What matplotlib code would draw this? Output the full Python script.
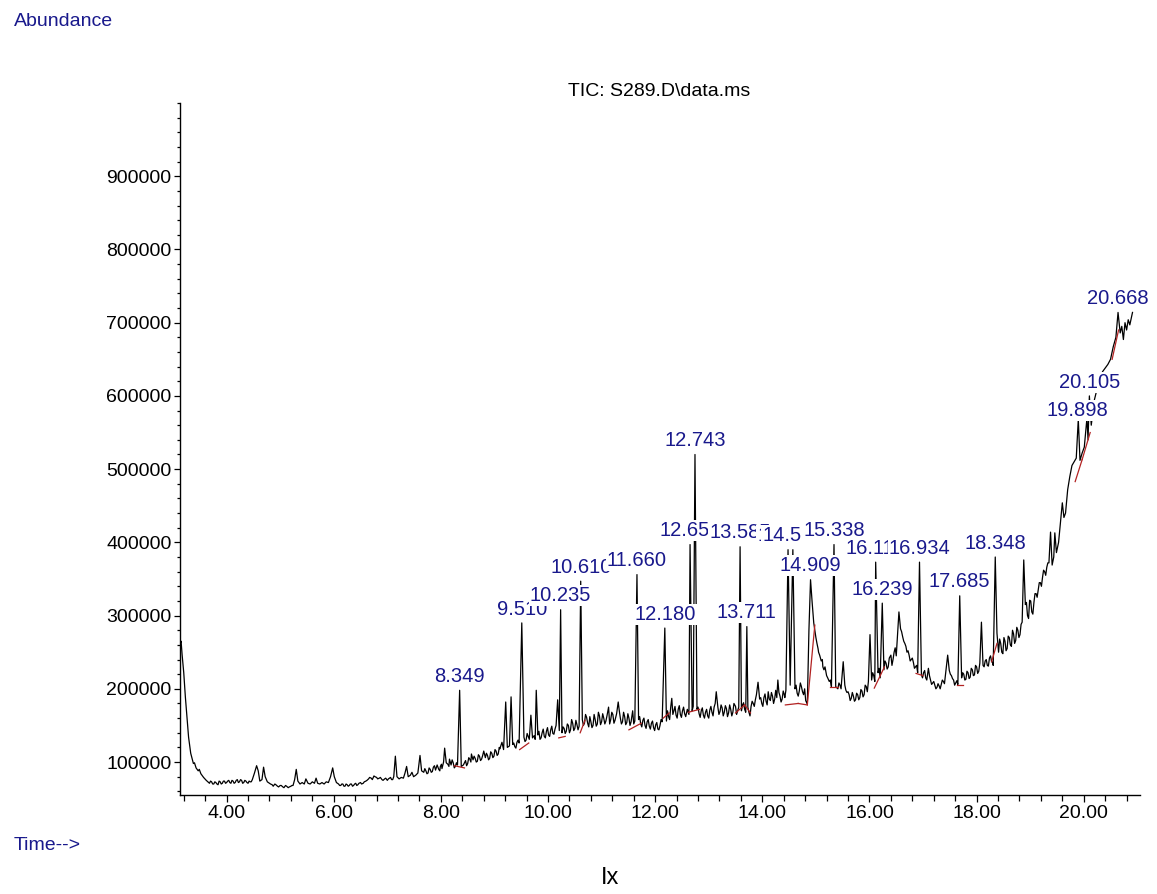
import matplotlib
matplotlib.use("Agg")
import matplotlib.pyplot as plt
from matplotlib.ticker import MultipleLocator, FixedLocator

plt.rcParams['font.family'] = ['Liberation Sans', 'DejaVu Sans']

# ---------------- data (time in min, abundance in thousands) ----------------
trace_time = [
    3.14, 3.15, 3.17, 3.20, 3.23, 3.26, 3.29, 3.33, 3.38, 3.40, 3.43, 3.47, 3.49, 3.52, 3.57, 3.62,
    3.68, 3.72, 3.76, 3.80, 3.84, 3.88, 3.92, 3.96, 4.00, 4.04, 4.08, 4.12, 4.16, 4.20, 4.24, 4.28,
    4.32, 4.36, 4.40, 4.44, 4.48, 4.52, 4.56, 4.59, 4.62, 4.66, 4.69, 4.72, 4.76, 4.80, 4.85, 4.90,
    4.95, 5.00, 5.05, 5.10, 5.15, 5.20, 5.24, 5.27, 5.30, 5.33, 5.37, 5.41, 5.45, 5.48, 5.52, 5.56,
    5.60, 5.64, 5.67, 5.70, 5.74, 5.78, 5.82, 5.86, 5.90, 5.94, 5.98, 6.01, 6.05, 6.09, 6.13, 6.17,
    6.21, 6.25, 6.29, 6.33, 6.37, 6.41, 6.45, 6.50, 6.55, 6.60, 6.65, 6.70, 6.75, 6.80, 6.85, 6.90,
    6.95, 7.00, 7.04, 7.08, 7.12, 7.15, 7.18, 7.22, 7.26, 7.30, 7.33, 7.36, 7.39, 7.43, 7.46, 7.49,
    7.53, 7.57, 7.61, 7.64, 7.68, 7.72, 7.76, 7.80, 7.84, 7.88, 7.90, 7.93, 7.96, 7.99, 8.02, 8.05,
    8.07, 8.10, 8.13, 8.16, 8.19, 8.23, 8.27, 8.31, 8.35, 8.38, 8.42, 8.46, 8.50, 8.54, 8.57, 8.60,
    8.64, 8.68, 8.72, 8.76, 8.80, 8.83, 8.87, 8.91, 8.95, 8.99, 9.03, 9.07, 9.10, 9.14, 9.17, 9.21,
    9.24, 9.28, 9.31, 9.34, 9.38, 9.42, 9.46, 9.51, 9.55, 9.59, 9.63, 9.68, 9.71, 9.74, 9.78, 9.81,
    9.85, 9.89, 9.93, 9.97, 10.01, 10.05, 10.09, 10.13, 10.18, 10.21, 10.235, 10.26, 10.30, 10.34, 10.38, 10.42,
    10.46, 10.50, 10.54, 10.58, 10.61, 10.64, 10.68, 10.72, 10.76, 10.80, 10.84, 10.88, 10.92, 10.96, 11.00, 11.04,
    11.08, 11.13, 11.17, 11.21, 11.25, 11.31, 11.35, 11.39, 11.43, 11.47, 11.51, 11.55, 11.58, 11.62, 11.66, 11.69,
    11.73, 11.77, 11.81, 11.85, 11.89, 11.93, 11.97, 12.01, 12.05, 12.09, 12.13, 12.18, 12.21, 12.25, 12.31, 12.35,
    12.39, 12.43, 12.47, 12.51, 12.55, 12.60, 12.651, 12.69, 12.743, 12.78, 12.82, 12.86, 12.90, 12.94, 12.98, 13.02,
    13.06, 13.10, 13.14, 13.17, 13.21, 13.25, 13.29, 13.33, 13.37, 13.41, 13.45, 13.50, 13.54, 13.585, 13.63, 13.67,
    13.711, 13.75, 13.79, 13.83, 13.87, 13.92, 13.95, 13.99, 14.03, 14.07, 14.11, 14.15, 14.19, 14.23, 14.29, 14.33,
    14.37, 14.41, 14.44, 14.48, 14.52, 14.57, 14.61, 14.65, 14.69, 14.73, 14.77, 14.81, 14.84, 14.87, 14.90, 14.93,
    14.96, 15.00, 15.05, 15.10, 15.15, 15.20, 15.25, 15.29, 15.338, 15.37, 15.41, 15.45, 15.48, 15.51, 15.54, 15.58,
    15.62, 15.66, 15.70, 15.74, 15.78, 15.82, 15.86, 15.90, 15.94, 15.98, 16.01, 16.04, 16.08, 16.116, 16.16, 16.20,
    16.239, 16.27, 16.31, 16.35, 16.40, 16.44, 16.48, 16.52, 16.55, 16.58, 16.62, 16.66, 16.70, 16.74, 16.78, 16.82,
    16.86, 16.90, 16.934, 16.97, 17.01, 17.05, 17.10, 17.14, 17.18, 17.22, 17.26, 17.30, 17.34, 17.38, 17.42, 17.46,
    17.49, 17.53, 17.57, 17.61, 17.65, 17.685, 17.72, 17.76, 17.80, 17.84, 17.88, 17.92, 17.96, 18.00, 18.04, 18.09,
    18.12, 18.16, 18.20, 18.24, 18.28, 18.31, 18.348, 18.38, 18.41, 18.45, 18.49, 18.53, 18.57, 18.61, 18.65, 18.69,
    18.73, 18.77, 18.81, 18.85, 18.88, 18.91, 18.95, 18.99, 19.03, 19.07, 19.11, 19.15, 19.19, 19.23, 19.27, 19.31,
    19.35, 19.38, 19.41, 19.44, 19.46, 19.49, 19.53, 19.57, 19.60, 19.63, 19.66, 19.70, 19.74, 19.78, 19.82, 19.86,
    19.898, 19.93, 19.97, 20.01, 20.06, 20.08, 20.105, 20.14, 20.20, 20.25, 20.30, 20.35, 20.40, 20.45, 20.50, 20.55,
    20.60, 20.64, 20.68, 20.71, 20.74, 20.77, 20.80, 20.83, 20.86, 20.91,
]
trace_abund_k = [
    263, 265, 246, 222, 189, 161, 134, 112, 98, 99, 92, 88, 90, 84, 79, 75,
    71, 73, 70, 72, 69, 73, 71, 74, 72, 75, 71, 74, 72, 76, 73, 75,
    72, 74, 71, 73, 76, 85, 95, 88, 74, 76, 93, 80, 73, 71, 69, 70,
    67, 68, 66, 68, 65, 67, 68, 76, 90, 74, 70, 72, 70, 77, 71, 70,
    73, 71, 78, 71, 70, 72, 70, 73, 72, 80, 92, 80, 72, 70, 68, 70,
    67, 69, 68, 70, 68, 71, 69, 72, 71, 74, 77, 78, 81, 79, 78, 76,
    77, 75, 78, 76, 80, 108, 80, 77, 79, 78, 85, 94, 80, 82, 86, 80,
    82, 85, 109, 88, 86, 88, 85, 90, 87, 95, 89, 96, 90, 94, 91, 100,
    119, 99, 97, 104, 96, 99, 94, 96, 198, 94, 96, 102, 98, 104, 111, 103,
    105, 101, 108, 104, 115, 106, 109, 105, 112, 108, 115, 111, 118, 127, 117, 182,
    120, 122, 189, 124, 121, 127, 126, 290, 134, 130, 135, 164, 133, 136, 198, 137,
    131, 140, 135, 142, 137, 144, 139, 145, 185, 143, 308, 140, 146, 142, 150, 144,
    153, 146, 151, 149, 347, 158, 153, 161, 148, 155, 150, 158, 152, 163, 155, 160,
    156, 175, 158, 165, 157, 182, 160, 155, 162, 154, 160, 155, 170, 156, 356, 158,
    152, 157, 150, 155, 149, 153, 147, 151, 145, 150, 155, 283, 156, 162, 187, 170,
    164, 172, 165, 170, 166, 172, 397, 170, 520, 172, 166, 170, 164, 168, 163, 171,
    168, 175, 196, 175, 169, 174, 168, 173, 167, 172, 168, 176, 170, 394, 178, 172,
    285, 168, 176, 180, 185, 209, 186, 180, 188, 183, 196, 184, 190, 186, 212, 190,
    186, 192, 198, 390, 205, 390, 200, 194, 197, 203, 192, 184, 179, 280, 349, 318,
    290, 270, 250, 238, 226, 218, 210, 203, 397, 203, 200, 205, 210, 237, 205, 195,
    192, 187, 190, 185, 192, 188, 197, 192, 203, 210, 274, 212, 218, 373, 222, 215,
    317, 226, 235, 230, 246, 240, 256, 270, 305, 282, 271, 262, 250, 246, 240, 236,
    230, 222, 373, 219, 222, 215, 228, 212, 208, 205, 202, 204, 206, 210, 220, 246,
    225, 218, 212, 208, 206, 327, 215, 220, 213, 222, 216, 226, 219, 230, 224, 291,
    232, 238, 232, 242, 237, 232, 380, 276, 250, 262, 248, 265, 255, 270, 258, 275,
    266, 280, 274, 291, 376, 315, 300, 321, 305, 318, 330, 335, 345, 352, 360, 366,
    372, 414, 369, 380, 413, 386, 400, 430, 454, 434, 440, 472, 490, 505, 510, 515,
    568, 512, 522, 530, 570, 540, 600, 560, 595, 610, 622, 633, 638, 643, 650, 667,
    680, 714, 686, 695, 677, 700, 690, 704, 697, 714,
]

# extra baseline-noise readings between the points above (thousands)
noise_time = [
    3.70, 3.74, 3.78, 3.82, 3.86, 3.90, 3.94, 3.98, 4.02, 4.06, 4.10, 4.14, 4.18, 4.22, 4.26, 4.30,
    4.34, 4.38, 4.42, 4.46, 4.82, 4.87, 4.92, 4.97, 5.02, 5.07, 5.12, 5.17, 5.22,
    6.07, 6.11, 6.15, 6.19, 6.23, 6.27, 6.31, 6.35, 6.39, 6.43, 6.47, 6.52, 6.57, 6.62,
    6.67, 6.72, 6.77, 6.82, 6.87, 6.92, 6.97, 7.02, 7.06, 7.10,
    7.70, 7.74, 7.78, 7.82, 7.86, 7.98, 8.01, 8.15, 8.21, 8.25, 8.29,
    8.44, 8.48, 8.52, 8.56, 8.62, 8.66, 8.70, 8.74, 8.78, 8.85, 8.89, 8.93, 8.97, 9.01, 9.05, 9.09,
    9.36, 9.40, 9.44, 9.57, 9.61, 9.65, 9.76, 9.83, 9.87, 9.91, 9.95, 9.99, 10.03, 10.07, 10.11, 10.15,
    10.28, 10.32, 10.36, 10.40, 10.44, 10.48, 10.52, 10.56, 10.66, 10.70, 10.74, 10.78, 10.82, 10.86, 10.90, 10.94,
    10.98, 11.02, 11.06, 11.10, 11.15, 11.19, 11.23, 11.28, 11.33, 11.37, 11.41, 11.45, 11.49, 11.53, 11.60, 11.71,
    11.75, 11.79, 11.83, 11.87, 11.91, 11.95, 11.99, 12.03, 12.07, 12.11, 12.23, 12.27, 12.29, 12.33, 12.37, 12.41,
    12.45, 12.49, 12.53, 12.57, 12.63, 12.71, 12.80, 12.84, 12.88, 12.92, 12.96, 13.00, 13.04, 13.08, 13.12, 13.19,
    13.23, 13.27, 13.31, 13.35, 13.39, 13.43, 13.47, 13.52, 13.56, 13.61, 13.65, 13.69, 13.73, 13.77, 13.81, 13.85,
    13.89, 13.97, 14.01, 14.05, 14.09, 14.13, 14.17, 14.21, 14.25, 14.27, 14.31, 14.35, 14.39, 14.42, 14.63, 14.67,
    14.71, 14.75, 14.79, 14.98, 15.02, 15.04, 15.07, 15.12, 15.13, 15.17, 15.22, 15.27,
    15.43, 15.47, 15.56, 15.60, 15.64, 15.68, 15.72, 15.76, 15.80, 15.84, 15.88, 15.92, 15.96, 16.06, 16.10, 16.18,
    16.29, 16.33, 16.37, 16.42, 16.46, 16.50, 16.60, 16.64, 16.68, 16.72, 16.76, 16.80, 16.84, 16.88, 16.99, 17.03,
    17.07, 17.12, 17.16, 17.20, 17.24, 17.28, 17.32, 17.36, 17.40, 17.51, 17.55, 17.59, 17.63, 17.74, 17.78, 17.82,
    17.86, 17.90, 17.94, 17.98, 18.02, 18.06, 18.14, 18.18, 18.22, 18.26, 18.30, 18.43, 18.47, 18.51, 18.55, 18.59,
    18.63, 18.67, 18.71, 18.75, 18.79, 18.83, 18.93, 18.97, 19.01, 19.05, 19.09, 19.13, 19.17, 19.21, 19.25, 19.29,
    19.33,
]
noise_abund_k = [
    74, 70, 73, 70, 74, 70, 74, 71, 74, 72, 75, 71, 75, 72, 76, 71,
    75, 72, 74, 73, 70, 67, 69, 66, 68, 65, 67, 66, 68,
    71, 68, 70, 67, 70, 67, 70, 67, 70, 68, 71, 70, 73, 75,
    79, 76, 80, 77, 79, 75, 78, 77, 79, 76,
    91, 84, 92, 86, 93, 88, 97, 94, 103, 92, 99,
    99, 95, 106, 100, 108, 100, 110, 102, 109, 112, 103, 114, 106, 117, 109, 120,
    126, 119, 130, 128, 139, 131, 131, 142, 133, 145, 133, 147, 135, 149, 138, 150,
    148, 139, 152, 140, 158, 143, 157, 144, 150, 165, 153, 162, 147, 165, 149, 168,
    151, 166, 152, 163, 152, 168, 153, 166, 170, 152, 168, 151, 166, 150, 152, 162,
    148, 160, 146, 158, 145, 156, 143, 154, 144, 158, 170, 158, 175, 165, 176, 160,
    177, 161, 175, 162, 165, 176, 175, 161, 174, 160, 172, 160, 176, 163, 180, 165,
    178, 163, 177, 162, 178, 163, 180, 165, 175, 170, 181, 168, 175, 163, 183, 176,
    192, 188, 176, 193, 178, 186, 195, 180, 198, 188, 195, 182, 197, 188, 205, 190,
    208, 196, 200, 280, 262, 255, 246, 240, 230, 230, 215, 212,
    208, 200, 198, 196, 184, 195, 183, 194, 185, 199, 189, 205, 196, 222, 210, 228,
    238, 227, 242, 232, 250, 245, 278, 265, 258, 252, 238, 242, 228, 232, 215, 225,
    212, 218, 206, 210, 200, 207, 200, 212, 207, 220, 214, 205, 211, 222, 212, 224,
    214, 228, 218, 232, 221, 235, 230, 240, 231, 245, 236, 268, 250, 270, 252, 272,
    260, 280, 262, 284, 270, 288, 318, 296, 320, 302, 330, 325, 345, 340, 362, 355,
    372,
]

# integration baselines (red): start time, start abundance, end time, end abundance (thousands)
base_t0 = [8.25, 9.47, 10.20, 10.60, 11.51, 12.15, 12.62, 13.50, 13.67, 14.43, 14.67, 14.84, 15.27, 16.09, 16.87, 17.63, 18.28, 19.84, 19.97, 20.53]
base_a0 = [95, 117, 133, 140, 144, 160, 168, 167, 178, 178, 180, 178, 203, 201, 221, 205, 237, 483, 513, 650]
base_t1 = [8.44, 9.64, 10.32, 10.69, 11.74, 12.26, 12.83, 13.67, 13.78, 14.67, 14.84, 14.98, 15.42, 16.28, 17.00, 17.75, 18.38, 19.97, 20.12, 20.65]
base_a1 = [92, 126, 135, 157, 153, 167, 172, 178, 167, 180, 178, 287, 203, 230, 218, 205, 262, 513, 550, 690]

# peak labels
peak_rt = [8.349, 9.510, 10.235, 10.610, 11.660, 12.180, 12.651, 12.743, 13.585, 13.711, 14.482, 14.571,
           14.895, 15.338, 16.116, 16.239, 16.934, 17.685, 18.348, 19.880, 20.105, 20.640]
peak_apex_k = [198, 290, 308, 347, 356, 283, 397, 520, 394, 285, 390, 390,
               349, 397, 373, 317, 373, 327, 380, 561, 599, 714]
peak_text = ["8.349", "9.510", "10.235", "10.610", "11.660", "12.180", "12.651", "12.743", "13.585", "13.711",
             "14.482", "14.571", "14.909", "15.338", "16.116", "16.239", "16.934", "17.685", "18.348",
             "19.898", "20.105", "20.668"]

ytick_values = [100000, 200000, 300000, 400000, 500000, 600000, 700000, 800000, 900000]
ytick_labels = [str(v) for v in ytick_values]
xtick_values = [4, 6, 8, 10, 12, 14, 16, 18, 20]
xtick_labels = ["%.2f" % v for v in xtick_values]

NAVY = "#19198c"

# merge trace readings in time order
pairs = sorted(zip(trace_time + noise_time, trace_abund_k + noise_abund_k), key=lambda p: p[0])
all_t = [p[0] for p in pairs]
all_a = [p[1] * 1000 for p in pairs]

# ---------------- figure ----------------
fig = plt.figure(figsize=(11.57, 8.94), dpi=100)
ax = fig.add_axes([180 / 1157, 1 - 795 / 894, 960 / 1157, (795 - 103) / 894])

ax.plot(all_t, all_a, color="black", lw=0.9, zorder=2)
for t0, a0, t1, a1 in zip(base_t0, base_a0, base_t1, base_a1):
    ax.plot([t0, t1], [a0 * 1000, a1 * 1000], color="#b22222", lw=0.9, zorder=2.1)

for rt, apex, txt in zip(peak_rt, peak_apex_k, peak_text):
    ax.annotate(txt, xy=(rt, apex * 1000), xytext=(0, 10), textcoords="offset points",
                ha="center", va="center", fontsize=14.5, color=NAVY, zorder=3,
                bbox=dict(boxstyle="square,pad=0.05", fc="white", ec="none"))

ax.set_xlim(3.13, 21.05)
ax.set_ylim(55000, 1000000)

for s in ["top", "right"]:
    ax.spines[s].set_visible(False)
ax.spines["left"].set_linewidth(1.0)
ax.spines["bottom"].set_linewidth(1.0)

ax.xaxis.set_major_locator(FixedLocator(xtick_values))
ax.set_xticklabels(xtick_labels)
ax.xaxis.set_minor_locator(MultipleLocator(0.4))
ax.yaxis.set_major_locator(FixedLocator(ytick_values))
ax.set_yticklabels(ytick_labels)
ax.yaxis.set_minor_locator(MultipleLocator(20000))

ax.tick_params(axis="x", which="major", direction="out", length=5, width=0.9, labelsize=14, pad=2)
ax.tick_params(axis="x", which="minor", direction="out", length=4, width=0.9)
ax.tick_params(axis="y", which="major", direction="out", length=4, width=0.9, labelsize=14, pad=2)
ax.tick_params(axis="y", which="minor", direction="out", length=2.5, width=0.9)

fig.text((560 + 758) / 2 / 1157, 1 - 92 / 894, "TIC: S289.D\\data.ms", ha="center", va="center",
         fontsize=14, color="black")
fig.text(14 / 1157, 1 - 21 / 894, "Abundance", ha="left", va="center", fontsize=14, color=NAVY)
fig.text(14 / 1157, 1 - 846 / 894, "Time-->", ha="left", va="center", fontsize=14, color=NAVY)
fig.text(610 / 1157, 1 - 878 / 894, "Ix", ha="center", va="center", fontsize=17, color="black")

fig.savefig("out.png", dpi=100)
